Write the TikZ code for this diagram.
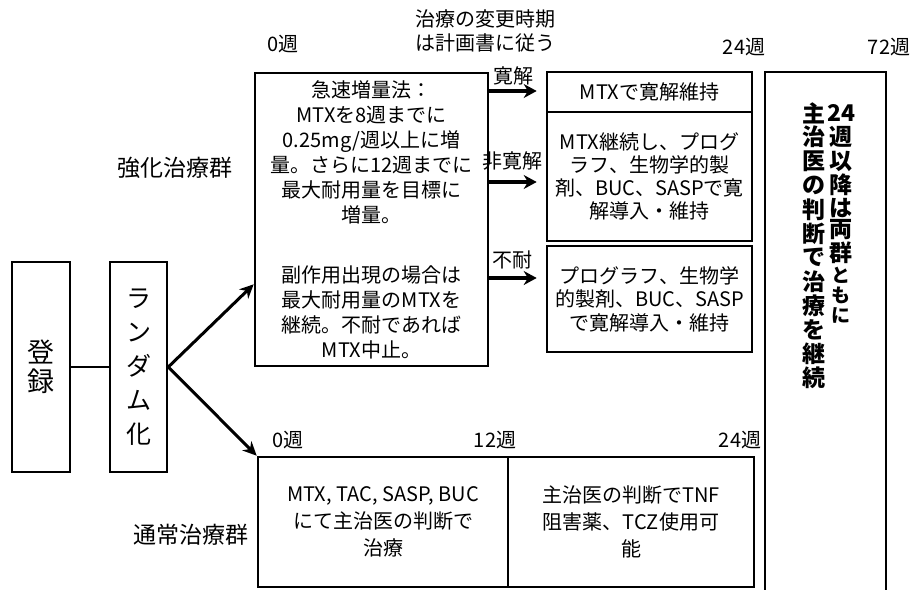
\documentclass[tikz,border=0pt]{standalone}
\usepackage{fontspec}
\setmainfont{Noto Sans CJK JP}
\usetikzlibrary{arrows.meta,calc}
\begin{document}
\begin{tikzpicture}[x=1pt,y=-1pt,
  bx/.style={draw=black, line width=2.6pt, inner sep=0pt, align=center, font=\fontsize{20}{24}\selectfont},
  lbl/.style={inner sep=0pt, align=center, font=\fontsize{20}{24}\selectfont},
  grp/.style={inner sep=0pt, font=\fontsize{23}{26}\selectfont},
  vt/.style={inner sep=0pt, font=\fontsize{23}{24}\selectfont\bfseries},
  vts/.style={inner sep=0pt, font=\fontsize{19}{20}\selectfont\bfseries},
  arr/.style={line width=3pt, -{Stealth[length=14pt,width=13pt]}},
  sarr/.style={line width=3.8pt, shorten >=9pt, -{Stealth[length=13pt,width=14pt]}}]
\fill[white] (0,0) rectangle (915,589);
\useasboundingbox (0,0) rectangle (915,589);

% labels on top
\node[lbl] (chg) at (485,31) {治療の変更時期\\は計画書に従う};
\node[lbl] (w0) at (283,44) {0週};
\node[lbl] (w24) at (744,47) {24週};
\node[lbl] (w72) at (889,47) {72週};
\node[grp] (g1) at (175,168) {強化治療群};
\node[grp] (g2) at (191,535) {通常治療群};
\node[lbl] (v0) at (288,440) {0週};
\node[lbl] (v12) at (495,440) {12週};
\node[lbl] (v24) at (740,440) {24週};
\node[lbl] (t1) at (513,76) {寛解};
\node[lbl] (t2) at (512,161) {非寛解};
\node[lbl] (t3) at (512,260) {不耐};

% left boxes
\node[bx, minimum width=58, minimum height=210, font=\fontsize{27}{29}\selectfont] (reg) at (41,367) {登\\録};
\node[bx, minimum width=57, minimum height=210, font=\fontsize{25}{34}\selectfont] (rnd) at (138.5,367) {ラ\\ン\\ダ\\ム\\化};

% intensive arm
\node[bx, minimum width=233, minimum height=293, font=\fontsize{20}{25}\selectfont] (up) at (371.5,219.5)
  {急速増量法：\\MTXを8週までに\\0.25mg/週以上に増\\量。さらに12週までに\\最大耐用量を目標に\\増量。\\[35pt]副作用出現の場合は\\最大耐用量のMTXを\\継続。不耐であれば\\MTX中止。};
\node[bx, minimum width=205, minimum height=40] (r1) at (649.5,92) {MTXで寛解維持};
\node[bx, minimum width=205, minimum height=129, font=\fontsize{20}{23}\selectfont] (r2) at (649.5,176.5)
  {MTX継続し、プログ\\ラフ、生物学的製\\剤、BUC、SASPで寛\\解導入・維持};
\node[bx, minimum width=205, minimum height=106, font=\fontsize{20}{23.5}\selectfont] (r3) at (649.5,299)
  {プログラフ、生物学\\的製剤、BUC、SASP\\で寛解導入・維持};

% standard arm
\node[bx, minimum width=250, minimum height=130, font=\fontsize{20}{27}\selectfont] (lo1) at (383,522)
  {MTX, TAC, SASP, BUC\\にて主治医の判断で\\治療};
\node[bx, minimum width=246, minimum height=130, font=\fontsize{20}{27}\selectfont] (lo2) at (631,522)
  {主治医の判断でTNF\\阻害薬、TCZ使用可\\能};

% after 24 weeks
\node[bx, minimum width=121, minimum height=540] (big) at (825.5,342) {};
\foreach \c/\y [count=\i] in {24/113,週/137,以/161,降/185,は/208,両/230,群/253}
  \node[vt] (R\i) at (841,\y) {\c};
\foreach \c/\y [count=\i] in {と/275,も/295,に/315}
  \node[vts] (S\i) at (841,\y) {\c};
\foreach \c [count=\i] in {主,治,医,の,判,断,で,治,療,を,継,続}
  \node[vt] (L\i) at (814,{113+(\i-1)*24.1}) {\c};

% connectors
\draw[line width=2.6pt] (reg.east) -- (rnd.west);
\draw[arr] (rnd.east) -- ($(up.south west)+(0,-83)$);
\draw[arr] (rnd.east) -- (lo1.north west);
\draw[sarr] (up.east |- 0,91) -- (r1.west |- 0,91);
\draw[sarr] (up.east |- 0,182) -- (r2.west |- 0,182);
\draw[sarr] (up.east |- 0,278) -- (r3.west |- 0,278);
\end{tikzpicture}
\end{document}
